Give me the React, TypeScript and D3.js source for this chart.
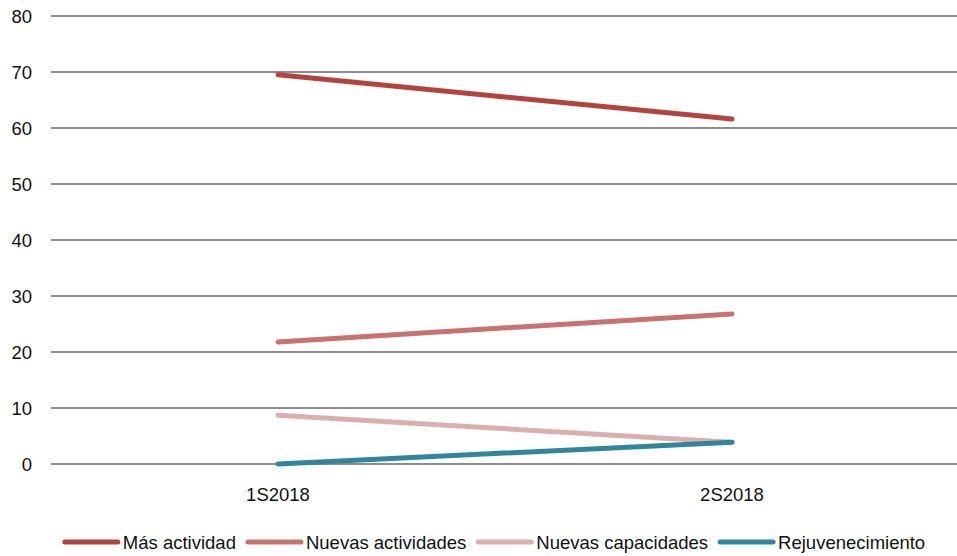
import React, { useEffect, useRef } from "react";
import * as d3 from "d3";

const categories = ["1S2018", "2S2018"];
const seriesNames = ["Más actividad", "Nuevas actividades", "Nuevas capacidades", "Rejuvenecimiento"];
const masActividad = [69.5, 61.6];
const nuevasActividades = [21.8, 26.8];
const nuevasCapacidades = [8.7, 3.9];
const rejuvenecimiento = [0, 3.9];
const yTicks = [0, 10, 20, 30, 40, 50, 60, 70, 80];
const colors = ["#B3433F", "#C8736F", "#DBAFAD", "#31859C"];

const W = 957;
const H = 556;
const FONT = "'Liberation Sans', Arial, sans-serif";
const FS = 18.5;

const App = () => {
  const svgRef = useRef<SVGSVGElement>(null);

  useEffect(() => {
    const svg = d3.select(svgRef.current);
    svg.selectAll("*").remove();

    const left = 51;

    const x = d3.scaleBand().domain(categories).range([left, W + 2]);
    const y = d3.scaleLinear().domain([0, 80]).range([464, 16]);

    // gridlines
    svg
      .append("g")
      .selectAll("line")
      .data(yTicks)
      .enter()
      .append("line")
      .attr("x1", left)
      .attr("x2", W)
      .attr("y1", (d) => y(d))
      .attr("y2", (d) => y(d))
      .attr("stroke", "#8C8C8C")
      .attr("stroke-width", 2);

    // y labels
    svg
      .append("g")
      .selectAll("text")
      .data(yTicks)
      .enter()
      .append("text")
      .attr("x", 32)
      .attr("y", (d) => y(d) + 6.5)
      .attr("text-anchor", "end")
      .attr("font-family", FONT)
      .attr("font-size", FS)
      .attr("fill", "#111")
      .text((d) => d);

    // x labels
    svg
      .append("g")
      .selectAll("text")
      .data(categories)
      .enter()
      .append("text")
      .attr("x", (d) => x(d)! + x.bandwidth() / 2)
      .attr("y", 501)
      .attr("text-anchor", "middle")
      .attr("font-family", FONT)
      .attr("font-size", FS)
      .attr("fill", "#111")
      .text((d) => d);

    const allSeries = [masActividad, nuevasActividades, nuevasCapacidades, rejuvenecimiento];
    const line = d3
      .line<number>()
      .x((_, i) => x(categories[i])! + x.bandwidth() / 2)
      .y((d) => y(d));

    svg
      .append("g")
      .selectAll("path")
      .data(allSeries)
      .enter()
      .append("path")
      .attr("d", (d) => line(d))
      .attr("fill", "none")
      .attr("stroke", (_, i) => colors[i])
      .attr("stroke-width", 5)
      .attr("stroke-linecap", "round");

    // legend
    const legend = svg.append("g");
    let cx = 55;
    const ly = 542;
    seriesNames.forEach((name, i) => {
      legend
        .append("line")
        .attr("x1", cx)
        .attr("x2", cx + 53)
        .attr("y1", ly)
        .attr("y2", ly)
        .attr("stroke", colors[i])
        .attr("stroke-width", 5)
        .attr("stroke-linecap", "round");
      const t = legend
        .append("text")
        .attr("x", cx + 58)
        .attr("y", ly + 6.5)
        .attr("font-family", FONT)
        .attr("font-size", FS)
        .attr("fill", "#111")
        .text(name);
      const w = (t.node() as SVGTextElement).getComputedTextLength();
      cx = cx + 58 + w + 12;
    });
    const bb = (legend.node() as SVGGElement).getBBox();
    const center = 495;
    legend.attr("transform", `translate(${center - (bb.x + bb.width / 2)},0)`);
  }, []);

  return <svg ref={svgRef} width={W} height={H} style={{ display: "block", position: "absolute", left: 0, top: 0 }} />;
};

export default App;
